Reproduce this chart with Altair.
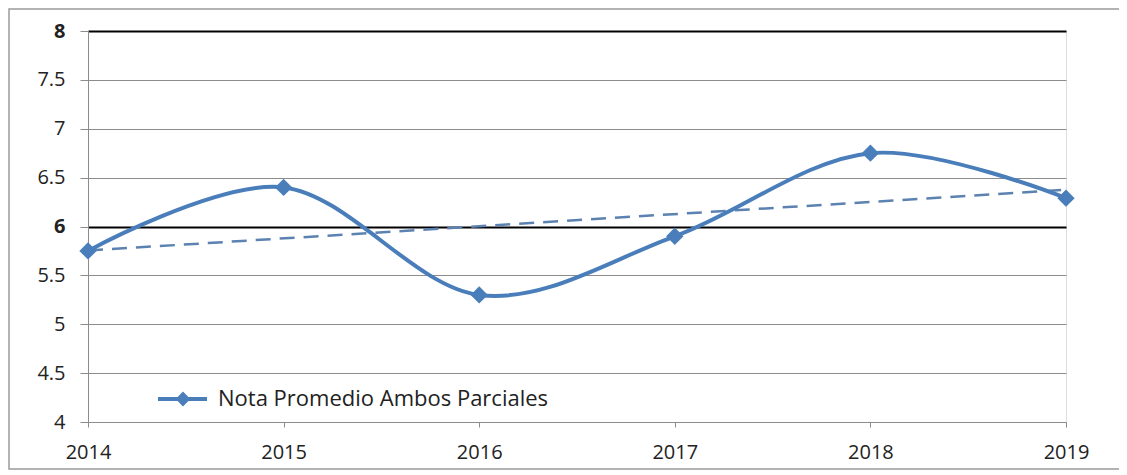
import altair as alt
import pandas as pd

years = [2014, 2015, 2016, 2017, 2018, 2019]
values = [5.75, 6.40, 5.30, 5.90, 6.75, 6.29]
y_ticks = [4, 4.5, 5, 5.5, 6, 6.5, 7, 7.5, 8]
series_name = "Nota Promedio Ambos Parciales"

df = pd.DataFrame({"year": years, "nota": values})

BLUE = "#4a7ebb"
FONT = "Open Sans"
W, H = 978, 391

x_enc = alt.X(
    "year:Q",
    scale=alt.Scale(domain=[2014, 2019], nice=False, zero=False),
    axis=alt.Axis(
        values=years, format="d", title=None, grid=False,
        domainColor="#8c8c8c", tickColor="#8c8c8c", tickSize=5,
        labelFont=FONT, labelFontSize=20, labelColor="#222222",
        labelPadding=15, labelFlush=False,
    ),
)
y_enc = alt.Y(
    "nota:Q",
    scale=alt.Scale(domain=[4, 8], nice=False, zero=False),
    axis=alt.Axis(
        values=y_ticks, title=None, format="~g",
        grid=True,
        gridColor={"condition": {"test": "datum.value === 8 || datum.value === 6", "value": "#000000"}, "value": "#8c8c8c"},
        gridWidth={"condition": {"test": "datum.value === 8 || datum.value === 6", "value": 2}, "value": 1},
        labelFontWeight={"condition": {"test": "datum.value === 8 || datum.value === 6", "value": "bold"}, "value": "normal"},
        domainColor="#8c8c8c", tickColor="#8c8c8c", tickSize=8,
        labelFont=FONT, labelFontSize=20, labelColor="#222222",
        labelPadding=15,
    ),
)

base = alt.Chart(df)

frame = base.mark_rect(fill=None, stroke="#9a9a9a", strokeWidth=1.5).encode(
    x=alt.value(-79), x2=alt.value(1045), y=alt.value(-22), y2=alt.value(438)
).transform_filter("datum.year === 2014")

trend = base.transform_regression("year", "nota").mark_line(
    color="#5b82b0", strokeWidth=2.5, strokeDash=[15, 9]
).encode(x=x_enc, y=y_enc)

line = base.mark_line(color=BLUE, strokeWidth=4, interpolate="cardinal", tension=0).encode(
    x=x_enc, y=y_enc
)
pts = base.mark_point(shape="diamond", filled=True, size=300, color=BLUE, opacity=1).encode(
    x=x_enc, y=y_enc
)

leg = alt.Chart(pd.DataFrame({"name": [series_name]}))
leg_line = leg.mark_rule(color=BLUE, strokeWidth=4).encode(
    x=alt.value(70), x2=alt.value(119), y=alt.value(368)
)
leg_pt = leg.mark_point(shape="diamond", filled=True, size=220, color=BLUE, opacity=1).encode(
    x=alt.value(95), y=alt.value(368)
)
leg_txt = leg.mark_text(align="left", baseline="middle", font=FONT, fontSize=22, color="#222222").encode(
    x=alt.value(130), y=alt.value(368), text="name:N"
)

chart = alt.layer(frame, trend, line, pts, leg_line, leg_pt, leg_txt).properties(
    width=W, height=H,
    autosize=alt.AutoSizeParams(type="none"),
    padding={"left": 80, "top": 23, "right": 53, "bottom": 50},
).configure_view(stroke=None).configure(background="white")

chart.save("out.html", embed_options={"renderer": "svg", "actions": False})
